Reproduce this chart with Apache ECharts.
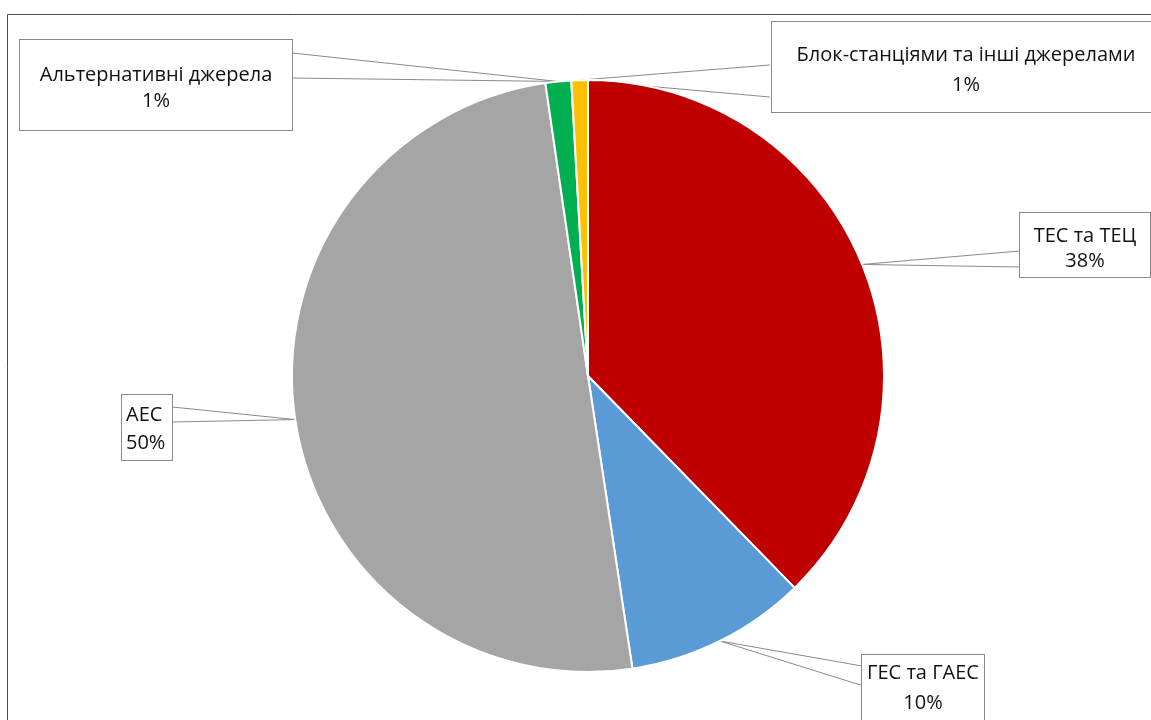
<!DOCTYPE html>
<html>
<head>
<meta charset="utf-8">
<script src="https://cdn.jsdelivr.net/npm/echarts@6/dist/echarts.min.js"></script>
<style>
html,body{margin:0;padding:0;background:#fff;}
#c{width:1151px;height:720px;}
</style>
</head>
<body>
<div id="c"></div>
<script>
// ---- data ----
const categories = ['ТЕС та ТЕЦ', 'ГЕС та ГАЕС', 'АЕС', 'Альтернативні джерела', 'Блок-станціями та інші джерелами'];
const values = [37.7, 9.9, 50.1, 1.4, 0.9];
const colors = ['#C00000', '#5B9BD5', '#A5A5A5', '#00B050', '#FFC000'];

// ---- label box layout (anchor x, top y, content width, lineHeight, padding, align) ----
const boxes = [
  {x: 1085, y: 213, w: 122, lh: 25, pad: [11, 4, 3, 4], align: 'center'},
  {x: 923, y: 655, w: 114, lh: 30, pad: [3, 4, 6, 4], align: 'center'},
  {x: 122, y: 395, w: 42, lh: 28, pad: [6, 4, 3, 4], align: 'left'},
  {x: 156, y: 40, w: 264, lh: 26, pad: [22, 4, 16, 4], align: 'center'},
  {x: 966, y: 22, w: 380, lh: 30, pad: [18, 4, 12, 4], align: 'center'}
];
// wedge attachment points on the boxes
const wedgeA = [[1020, 251], [862, 666], [172, 407], [292, 53], [770, 65]];
const wedgeB = [[1020, 267], [862, 686], [172, 422], [292, 78], [770, 97]];

const center = [588, 376];
const radius = 296;
const fontFamily = '"Open Sans", "Noto Sans", sans-serif';

const mainData = categories.map((n, i) => ({
  name: n,
  value: values[i],
  itemStyle: {color: colors[i]},
  label: {
    width: boxes[i].w,
    lineHeight: boxes[i].lh,
    padding: boxes[i].pad,
    align: boxes[i].align
  }
}));
const ghostData = categories.map((n, i) => ({name: n, value: values[i]}));

function ghostSeries(points) {
  return {
    type: 'pie',
    center: center,
    radius: radius,
    startAngle: 90,
    clockwise: true,
    silent: true,
    avoidLabelOverlap: false,
    z: 1,
    itemStyle: {color: 'rgba(0,0,0,0)', borderWidth: 0},
    label: {show: true, position: 'outside', formatter: ' ', fontSize: 1, width: 1, overflow: 'none'},
    labelLine: {show: true, length: 10, length2: 0, smooth: false, lineStyle: {color: '#8a8a8a', width: 1}},
    labelLayout: function (p) {
      const pt = points[p.dataIndex];
      return {x: pt[0], y: pt[1], align: 'center', verticalAlign: 'middle', hideOverlap: false};
    },
    emphasis: {disabled: true},
    data: ghostData
  };
}

const chart = echarts.init(document.getElementById('c'), null, {renderer: 'canvas'});
chart.setOption({
  animation: false,
  backgroundColor: '#fff',
  graphic: [{
    type: 'rect', silent: true, z: -10,
    shape: {x: 7.5, y: 14.5, width: 1300, height: 900},
    style: {fill: 'none', stroke: '#4a4a4a', lineWidth: 1}
  }],
  series: [
    ghostSeries(wedgeA),
    ghostSeries(wedgeB),
    {
      type: 'pie',
      center: center,
      radius: radius,
      startAngle: 90,
      clockwise: true,
      avoidLabelOverlap: false,
      percentPrecision: 0,
      z: 2,
      itemStyle: {borderColor: '#ffffff', borderWidth: 2},
      label: {
        show: true,
        position: 'outside',
        formatter: '{b}\n{d}%',
        fontFamily: fontFamily,
        fontSize: 20,
        color: '#111',
        backgroundColor: '#fff',
        borderColor: '#8a8a8a',
        borderWidth: 1,
        overflow: 'none'
      },
      labelLine: {show: false},
      labelLayout: function (p) {
        const b = boxes[p.dataIndex];
        return {x: b.x, y: b.y, align: b.align, verticalAlign: 'top', hideOverlap: false};
      },
      emphasis: {disabled: true},
      data: mainData
    }
  ]
});
</script>
</body>
</html>
